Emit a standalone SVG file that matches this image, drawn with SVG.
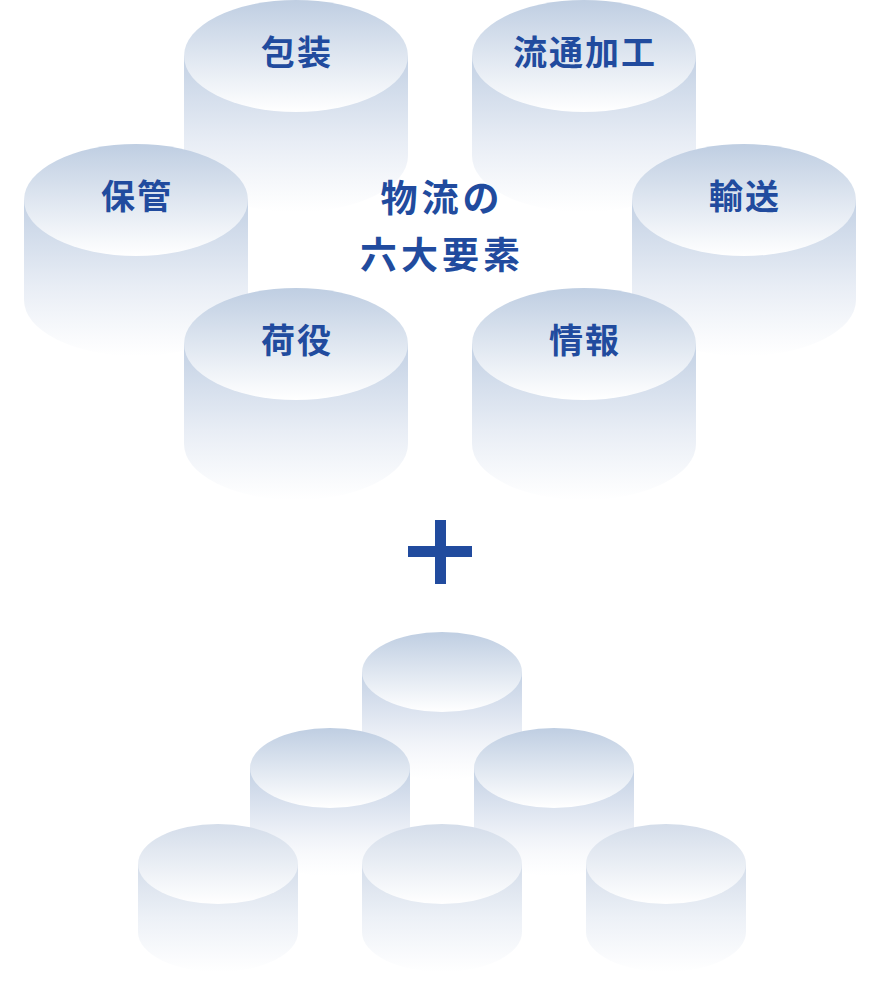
<svg xmlns="http://www.w3.org/2000/svg" width="880" height="984" viewBox="0 0 880 984">
<defs>
<linearGradient id="topG" x1="0" y1="0" x2="0" y2="1">
<stop offset="0" stop-color="#bfcee2"/>
<stop offset="1" stop-color="#ffffff"/>
</linearGradient>
<linearGradient id="topL" x1="0" y1="0" x2="0" y2="1">
<stop offset="0" stop-color="#d4ddea"/>
<stop offset="1" stop-color="#ffffff"/>
</linearGradient>
<linearGradient id="bodyG" x1="0" y1="0" x2="0" y2="1">
<stop offset="0" stop-color="#c3d1e4"/>
<stop offset="0.55" stop-color="#e8edf5"/>
<stop offset="1" stop-color="#ffffff" stop-opacity="0.9"/>
</linearGradient>
<linearGradient id="bodyS" x1="0" y1="0" x2="0" y2="1">
<stop offset="0" stop-color="#c3d1e4"/>
<stop offset="0.5" stop-color="#e6ebf4"/>
<stop offset="1" stop-color="#ffffff" stop-opacity="0.5"/>
</linearGradient>
<linearGradient id="bodyL" x1="0" y1="0" x2="0" y2="1">
<stop offset="0" stop-color="#d4ddea"/>
<stop offset="0.5" stop-color="#edf1f7"/>
<stop offset="1" stop-color="#ffffff"/>
</linearGradient>
</defs>
<style>
.lbl{font-family:"Noto Sans CJK JP","Noto Sans CJK SC",sans-serif;font-weight:700;font-size:34px;fill:#214b9e;text-anchor:middle;letter-spacing:2px}
.ctr{font-family:"Noto Sans CJK JP","Noto Sans CJK SC",sans-serif;font-weight:700;font-size:37px;fill:#214b9e;text-anchor:middle;letter-spacing:4px}
.top{fill:url(#topG)}
.topl{fill:url(#topL)}
.body{fill:url(#bodyG)}
.bodys{fill:url(#bodyS)}
.bodyl{fill:url(#bodyL)}
</style>
<rect width="880" height="984" fill="#ffffff"/>

<g id="housou">
<path class="body" d="M184 56 V156 A112 56 0 0 0 408 156 V56 Z"/>
<ellipse class="top" cx="296" cy="56" rx="112" ry="56"/>
<text class="lbl" x="297" y="65">包装</text>
</g>
<g id="ryutsukakou">
<path class="body" d="M472 56 V156 A112 56 0 0 0 696 156 V56 Z"/>
<ellipse class="top" cx="584" cy="56" rx="112" ry="56"/>
<text class="lbl" x="585" y="65">流通加工</text>
</g>
<g id="hokan">
<path class="body" d="M24 200 V300 A112 56 0 0 0 248 300 V200 Z"/>
<ellipse class="top" cx="136" cy="200" rx="112" ry="56"/>
<text class="lbl" x="137" y="209">保管</text>
</g>
<g id="yusou">
<path class="body" d="M632 200 V300 A112 56 0 0 0 856 300 V200 Z"/>
<ellipse class="top" cx="744" cy="200" rx="112" ry="56"/>
<text class="lbl" x="745" y="209">輸送</text>
</g>
<g id="niyaku">
<path class="body" d="M184 344 V444 A112 56 0 0 0 408 444 V344 Z"/>
<ellipse class="top" cx="296" cy="344" rx="112" ry="56"/>
<text class="lbl" x="297" y="353">荷役</text>
</g>
<g id="jouhou">
<path class="body" d="M472 344 V444 A112 56 0 0 0 696 444 V344 Z"/>
<ellipse class="top" cx="584" cy="344" rx="112" ry="56"/>
<text class="lbl" x="585" y="353">情報</text>
</g>
<g id="center">
<text class="ctr" x="442" y="212">物流の</text>
<text class="ctr" x="442" y="269">六大要素</text>
</g>
<g id="plus" fill="#214b9e">
<rect x="435" y="520" width="11" height="64"/>
<rect x="408" y="546" width="64" height="11"/>
</g>
<g id="stack">
<g id="s1">
<path class="bodys" d="M362 672 V740 A80 40 0 0 0 522 740 V672 Z"/>
<ellipse class="top" cx="442" cy="672" rx="80" ry="40"/>
</g>
<g id="s2">
<path class="bodys" d="M250 768 V836 A80 40 0 0 0 410 836 V768 Z"/>
<ellipse class="top" cx="330" cy="768" rx="80" ry="40"/>
</g>
<g id="s3">
<path class="bodys" d="M474 768 V836 A80 40 0 0 0 634 836 V768 Z"/>
<ellipse class="top" cx="554" cy="768" rx="80" ry="40"/>
</g>
<g id="s4">
<path class="bodyl" d="M138 864 V932 A80 40 0 0 0 298 932 V864 Z"/>
<ellipse class="topl" cx="218" cy="864" rx="80" ry="40"/>
</g>
<g id="s5">
<path class="bodyl" d="M362 864 V932 A80 40 0 0 0 522 932 V864 Z"/>
<ellipse class="topl" cx="442" cy="864" rx="80" ry="40"/>
</g>
<g id="s6">
<path class="bodyl" d="M586 864 V932 A80 40 0 0 0 746 932 V864 Z"/>
<ellipse class="topl" cx="666" cy="864" rx="80" ry="40"/>
</g>
</g>
</svg>
